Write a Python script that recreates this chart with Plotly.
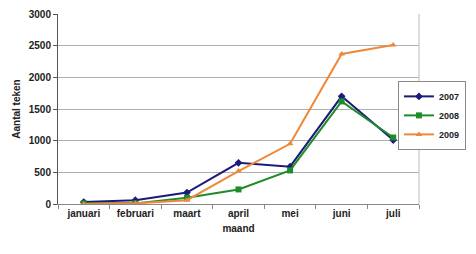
import plotly.graph_objects as go

months = ["januari", "februari", "maart", "april", "mei", "juni", "juli"]
y2007 = [30, 60, 180, 650, 590, 1700, 1010]
y2008 = [10, 10, 100, 230, 530, 1620, 1050]
y2009 = [0, 10, 60, 520, 950, 2370, 2510]
y_ticks = [0, 500, 1000, 1500, 2000, 2500, 3000]

fig = go.Figure()
fig.add_trace(go.Scatter(x=months, y=y2007, name="2007", mode="lines+markers",
                         line=dict(color="#1b1b7a", width=2),
                         marker=dict(symbol="diamond", size=6, color="#1b1b7a")))
fig.add_trace(go.Scatter(x=months, y=y2008, name="2008", mode="lines+markers",
                         line=dict(color="#1f8c2a", width=2),
                         marker=dict(symbol="square", size=6, color="#1f8c2a")))
fig.add_trace(go.Scatter(x=months, y=y2009, name="2009", mode="lines+markers",
                         line=dict(color="#f0883a", width=2),
                         marker=dict(symbol="triangle-up", size=6, color="#f0883a")))

font_b = dict(family="Arial, Liberation Sans", size=10, color="#222222", weight="bold")

fig.update_layout(
    width=476, height=254,
    margin=dict(l=58, r=57, t=8, b=50),
    paper_bgcolor="white", plot_bgcolor="white",
    font=font_b,
    showlegend=True,
    legend=dict(x=1.13, y=0.648, xanchor="right", yanchor="top",
                bordercolor="#888888", borderwidth=1,
                font=dict(family="Arial, Liberation Sans", size=9, weight="bold", color="#222222"),
                itemwidth=30, tracegroupgap=0, bgcolor="white"),
    xaxis=dict(type="category", showline=True, linecolor="#888888", linewidth=1,
               ticks="outside", ticklen=4, tickcolor="#888888", tickson="boundaries",
               showgrid=False, mirror=False, tickfont=font_b,
               title=dict(text="maand", font=font_b, standoff=6),
               range=[-0.5, 6.5]),
    yaxis=dict(range=[0, 3000], tickvals=y_ticks, showline=True, linecolor="#555555",
               linewidth=1, ticks="outside", ticklen=4, tickcolor="#555555",
               showgrid=True, gridcolor="#b0b0b0", gridwidth=1, zeroline=False,
               tickfont=font_b,
               title=dict(text="Aantal teken", font=font_b, standoff=6)),
    shapes=[dict(type="line", xref="paper", yref="paper", x0=1, x1=1, y0=0, y1=1,
                 line=dict(color="#bbbbbb", width=1))],
)

fig.write_html("out.html")
